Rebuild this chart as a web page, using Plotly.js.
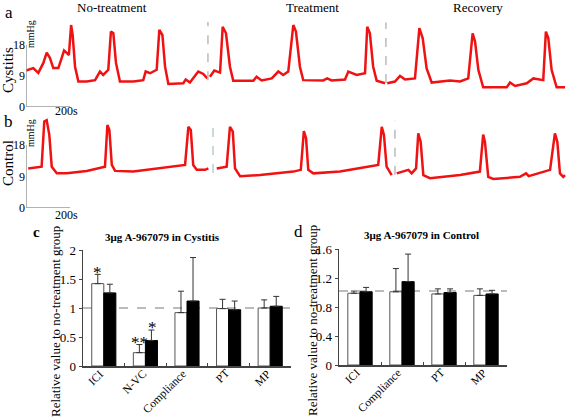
<!DOCTYPE html>
<html><head><meta charset="utf-8">
<script src="https://cdn.plot.ly/plotly-3.0.1.min.js"></script>
<style>html,body{margin:0;padding:0;background:#fff}#chart{width:567px;height:418px}</style>
</head><body><div id="chart"></div>
<script>
// Panel a: cystitis cystometrogram (time s, pressure mmHg)
const tA = [0,33,56,79,94,109,124,147,162,173,185,195,205,212,223,238,276,314,336,351,374,386,397,409,427,488,533,544,564,594,606,620,632,647,715,726,745,783,806,824,830,836,856,882,894,909,927,942,1033,1048,1071,1117,1147,1169,1192,1215,1227,1245,1260,1351,1369,1389,1450,1465,1503,1541,1551,1563,1578,1594,1632,1637,1642,1677,1700,1723,1768,1788,1803,1821,1844,1927,1973,2010,2030,2041,2056,2078,2185,2200,2223,2276,2306,2351,2363,2374,2389,2412,2450];
const pA = [10.6,11.3,9.9,12.8,15.8,14.2,11.3,11.3,14.2,16.4,15.7,15.1,23.8,20.9,11.7,7.4,7.4,7.8,10.3,9.3,10.8,21.9,21.4,12.8,7.4,7.4,7.8,10.3,9.8,10.8,22.4,20.9,11.7,6.7,6.9,8.0,7.1,10.3,9.6,8.3,null,8.8,10.6,10.0,23.3,21.4,11.7,7.6,7.6,8.8,7.7,8.3,10.3,9.3,10.3,23.8,21.9,11.7,7.8,7.7,8.3,7.7,8.0,10.3,9.3,9.8,23.3,21.4,11.7,7.6,6.9,null,6.9,7.4,9.0,8.0,8.3,22.9,20.0,11.2,7.1,7.7,7.4,8.3,21.4,19.0,10.8,5.7,5.7,7.1,6.1,6.9,8.3,7.8,21.9,20.0,10.8,5.7,5.7];
// Panel b: control cystometrogram
const tB = [10,71,83,94,106,117,140,185,276,359,370,379,390,405,488,609,723,738,749,760,776,814,829,848,867,912,927,940,950,973,1064,1154,1215,1249,1263,1273,1283,1306,1427,1533,1601,1617,1627,1639,1662,1675,1685,1738,1753,1773,1783,1794,1806,1836,1973,2063,2078,2086,2101,2124,2245,2273,2285,2382,2404,2415,2427,2442,2450];
const pB = [11.3,11.8,24.7,25.1,20.9,11.8,9.9,9.9,10.6,11.8,23.7,22.3,12.3,10.6,10.4,11.3,12.3,23.2,22.3,12.3,10.9,10.9,11.3,null,11.3,11.8,23.2,21.8,11.3,9.1,9.4,9.9,10.4,10.9,22.0,19.9,10.9,9.9,10.4,11.6,12.3,23.2,20.9,11.8,9.4,null,9.9,10.9,9.9,11.3,21.3,18.9,9.4,8.5,9.4,10.4,21.0,18.9,8.9,8.3,8.9,9.9,9.1,10.9,21.3,18.9,9.9,8.9,9.4];
const phaseLabels = ["No-treatment","Treatment","Recovery"];
const pressureTicks = [0,9,18];
// Panel c
const catsC = ["ICI","N-VC","Compliance","PT","MP"];
const cWhite = [1.42,0.23,0.92,0.99,1.00];
const cWhiteErr = [0.16,0.14,0.37,0.16,0.14];
const cBlack = [1.26,0.44,1.12,0.97,1.03];
const cBlackErr = [0.15,0.18,0.75,0.15,0.17];
// Panel d
const catsD = ["ICI","Compliance","PT","MP"];
const dWhite = [0.99,1.01,0.98,0.96];
const dWhiteErr = [0.03,0.32,0.07,0.09];
const dBlack = [1.01,1.15,1.00,0.98];
const dBlackErr = [0.06,0.38,0.05,0.05];

const W=567,H=418;
const X = p => p/W, Y = p => 1 - p/H;
const FONT = "Liberation Serif, Times New Roman, serif";
const RED = "#f01212";

const zeros = n => new Array(n).fill(0);
function bar(x, y, err, white, xa, ya){
  return {type:"bar", x:x, y:y, xaxis:xa, yaxis:ya, showlegend:false,
    marker:{color: white ? "#ffffff" : "#000000", line:{color: white ? "#555" : "#000", width:1}},
    error_y:{type:"data", symmetric:false, array:err, arrayminus:zeros(err.length), color:"#333", thickness:1, width:3}};
}

const data = [
  {type:"scatter", mode:"lines", x:tA, y:pA, xaxis:"x", yaxis:"y", line:{color:RED, width:2.5}, connectgaps:false, showlegend:false},
  {type:"scatter", mode:"lines", x:tB, y:pB, xaxis:"x2", yaxis:"y2", line:{color:RED, width:2.5}, connectgaps:false, showlegend:false},
  bar(catsC, cWhite, cWhiteErr, true, "x3", "y3"),
  bar(catsC, cBlack, cBlackErr, false, "x3", "y3"),
  bar(catsD, dWhite, dWhiteErr, true, "x4", "y4"),
  bar(catsD, dBlack, dBlackErr, false, "x4", "y4")
];

const traceX = {domain:[X(26),1], range:[0,2459], showgrid:false, zeroline:false, showline:false, showticklabels:false, ticks:""};
const traceYtick = {tickvals:pressureTicks, showgrid:false, zeroline:false, showline:false, ticks:"", tickfont:{family:FONT,size:12,color:"#000"}};
const barX = (dom)=>({domain:dom, type:"category", showgrid:false, zeroline:false, showline:true, linecolor:"#444", linewidth:1.5,
  ticks:"inside", ticklen:3, tickcolor:"#444", tickson:"boundaries", showticklabels:false});
const barY = (dom, rng, dt)=>({domain:dom, range:rng, dtick:dt, showgrid:false, zeroline:false, showline:true, linecolor:"#444", linewidth:1.5,
  ticks:"outside", ticklen:3, tickcolor:"#444", tickfont:{family:FONT,size:13,color:"#000"}});

function txt(text, x, y, size, angle){
  return {text:text, x:X(x), y:Y(y), xref:"paper", yref:"paper", xanchor:"center", yanchor:"middle",
    showarrow:false, textangle:angle||0, font:{size:size}};
}
const tickAnns = [];
catsC.forEach(c => tickAnns.push({text:c, xref:"x3", yref:"paper", x:c, y:Y(366), xanchor:"right", yanchor:"top", xshift:4,
  showarrow:false, textangle:-45, borderpad:0, font:{size:11.5}}));
catsD.forEach(c => tickAnns.push({text:c, xref:"x4", yref:"paper", x:c, y:Y(365), xanchor:"right", yanchor:"top", xshift:4,
  showarrow:false, textangle:-45, borderpad:0, font:{size:11.5}}));

const layout = {
  width:W, height:H, margin:{l:0,r:0,t:0,b:0}, paper_bgcolor:"#fff", plot_bgcolor:"rgba(0,0,0,0)",
  font:{family:FONT, color:"#000"},
  barmode:"group", bargap:0.42, bargroupgap:0,
  xaxis: Object.assign({}, traceX, {anchor:"y"}),
  yaxis: Object.assign({}, traceYtick, {domain:[Y(107), Y(20)], range:[0,(107-20)/(62/18)], anchor:"x"}),
  xaxis2: Object.assign({}, traceX, {anchor:"y2"}),
  yaxis2: Object.assign({}, traceYtick, {domain:[Y(208), Y(113)], range:[0,(208-113)/3.5], anchor:"x2"}),
  xaxis3: Object.assign(barX([X(83),X(291)]), {anchor:"y3"}),
  yaxis3: Object.assign(barY([Y(366),Y(250)],[0,2],0.5), {anchor:"x3"}),
  xaxis4: Object.assign(barX([X(339),X(507)]), {anchor:"y4"}),
  yaxis4: Object.assign(barY([Y(365),Y(249)],[0,1.6],0.4), {anchor:"x4"}),
  shapes: [
    {type:"line", xref:"x", yref:"y", x0:0, x1:0, y0:0, y1:18, line:{color:"#999", width:1.5}},
    {type:"line", xref:"x", yref:"y", x0:0, x1:200, y0:0, y1:0, line:{color:"#999", width:1.5}},
    {type:"line", xref:"x2", yref:"y2", x0:0, x1:0, y0:0, y1:18, line:{color:"#999", width:1.5}},
    {type:"line", xref:"x2", yref:"y2", x0:0, x1:200, y0:0, y1:0, line:{color:"#999", width:1.5}},
    {type:"line", xref:"x", yref:"y", x0:827, x1:827, y0:7.8, y1:24.7, line:{color:"#bbb", width:1.5, dash:"dash"}},
    {type:"line", xref:"x", yref:"y", x0:1636, x1:1636, y0:7, y1:24.5, line:{color:"#bbb", width:1.5, dash:"dash"}},
    {type:"line", xref:"x2", yref:"y2", x0:850, x1:850, y0:10, y1:25, line:{color:"#b5cfcf", width:1.5, dash:"dash"}},
    {type:"line", xref:"x2", yref:"y2", x0:1677, x1:1677, y0:9.5, y1:25, line:{color:"#bbb", width:1.5, dash:"dash"}},
    {type:"line", xref:"x3 domain", yref:"y3", x0:0, x1:1, y0:1, y1:1, layer:"below", line:{color:"#bbb", width:2, dash:"dash"}},
    {type:"line", xref:"x4 domain", yref:"y4", x0:0, x1:1, y0:1.02, y1:1.02, layer:"below", line:{color:"#bbb", width:2, dash:"dash"}}
  ],
  annotations: [
    txt("a", 9, 12, 17), txt("b", 8, 121, 17), txt("<b>c</b>", 36, 232, 15), txt("d", 298, 231, 17),
    txt(phaseLabels[0], 112, 8, 13), txt(phaseLabels[1], 312, 8, 13), txt(phaseLabels[2], 478, 8, 13),
    txt("Cystitis", 8, 70, 15, -90), txt("Control", 8, 163, 15, -90),
    txt("mmHg", 31, 34, 10, -90), txt("mmHg", 31, 133, 10, -90),
    txt("200s", 66, 111, 12), txt("200s", 66, 215, 12),
    txt("<b>3μg A-967079 in Cystitis</b>", 162, 237, 11), txt("<b>3μg A-967079 in Control</b>", 421, 235, 11),
    txt("Relative value to no-treatment group", 55, 322, 13, -90),
    txt("Relative value to no-treatment group", 312, 321, 13, -90),
    {text:"*", xref:"x3", yref:"y3", x:"ICI", y:1.62, xshift:-6, xanchor:"center", yanchor:"middle", showarrow:false, font:{size:17}},
    {text:"**", xref:"x3", yref:"y3", x:"N-VC", y:0.41, xshift:-6, xanchor:"center", yanchor:"middle", showarrow:false, font:{size:17}},
    {text:"*", xref:"x3", yref:"y3", x:"N-VC", y:0.67, xshift:7, xanchor:"center", yanchor:"middle", showarrow:false, font:{size:17}}
  ].concat(tickAnns)
};
Plotly.newPlot("chart", data, layout, {displayModeBar:false, staticPlot:true});
</script></body></html>
